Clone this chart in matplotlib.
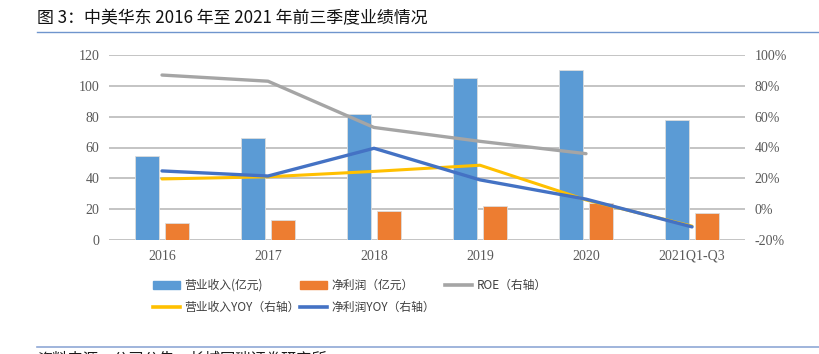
import numpy as np
import matplotlib.pyplot as plt
from matplotlib.ticker import FuncFormatter
from matplotlib.lines import Line2D

plt.rcParams['font.family'] = ['Noto Sans CJK SC', 'DejaVu Sans']

# data
years = ['2016', '2017', '2018', '2019', '2020', '2021Q1-Q3']
revenue = [54.5, 66, 82, 105, 110, 78]          # 营业收入 (亿元)
net_profit = [11, 13, 18.5, 22, 24, 17.5]       # 净利润 (亿元)
roe = [0.87, 0.83, 0.53, 0.44, 0.36, np.nan]    # ROE (右轴)
revenue_yoy = [0.196, 0.21, 0.245, 0.285, 0.06, -0.11]
profit_yoy = [0.248, 0.215, 0.395, 0.19, 0.065, -0.115]

c_rev = '#5B9BD5'
c_np = '#ED7D31'
c_roe = '#A5A5A5'
c_ryoy = '#FFC000'
c_pyoy = '#4472C4'
serif = 'Liberation Serif'
tick_col = '#595959'

fig = plt.figure(figsize=(8.2, 3.54), dpi=100)
ax = fig.add_axes([109/820, 1-240/354, 636/820, 185/354])
ax2 = ax.twinx()

x = np.arange(len(years))
w = 0.226
ax.bar(x - 0.14, revenue, w, color=c_rev, edgecolor='#DDDDDD', linewidth=0.6, zorder=2)
ax.bar(x + 0.14, net_profit, w, color=c_np, edgecolor='#DDDDDD', linewidth=0.6, zorder=2)

ax2.plot(x, roe, color=c_roe, lw=2.4, solid_capstyle='round')
ax2.plot(x, revenue_yoy, color=c_ryoy, lw=2.2, solid_capstyle='round')
ax2.plot(x, profit_yoy, color=c_pyoy, lw=2.4, solid_capstyle='round')

ax.set_xlim(-0.5, len(years) - 0.5)
ax.set_ylim(0, 120)
ax.set_yticks(range(0, 121, 20))
ax2.set_ylim(-0.2, 1.0)
ax2.set_yticks(np.arange(-0.2, 1.01, 0.2))
ax2.yaxis.set_major_formatter(FuncFormatter(lambda v, p: '%d%%' % round(v * 100)))

ax.grid(axis='y', color='#B4B4B4', lw=1.1, zorder=0)
ax.set_axisbelow(True)
ax.set_xticks(x)
ax.set_xticklabels(years)
for a in (ax, ax2):
    for s in a.spines.values():
        s.set_visible(False)
    a.tick_params(length=0, colors=tick_col, labelsize=10, pad=7)
    for lab in a.get_yticklabels() + a.get_xticklabels():
        lab.set_family(serif)

# legend: three columns placed like the original
rect = lambda c: plt.Rectangle((0, 0), 1, 1, color=c)
line = lambda c: Line2D([], [], color=c, lw=2.6)
cols = [
    (153, [rect(c_rev), line(c_ryoy)], ['营业收入(亿元)', '营业收入YOY（右轴）']),
    (300, [rect(c_np), line(c_pyoy)], ['净利润（亿元）', '净利润YOY（右轴）']),
    (445, [line(c_roe)], ['ROE（右轴）']),
]
for xpos, h, l in cols:
    leg = fig.legend(h, l, loc='upper left', bbox_to_anchor=(xpos/820, 1-279/354),
                     frameon=False, fontsize=8.5, handlelength=2.3, handleheight=0.7,
                     handletextpad=0.35, labelspacing=0.75, borderaxespad=0, borderpad=0)
    for t in leg.get_texts():
        t.set_color('#404040')

fig.text(37/820, 1-18/354, '图 3：中美华东 2016 年至 2021 年前三季度业绩情况',
         fontsize=12.2, va='center', ha='left', color='#111111')
fig.add_artist(Line2D([37/820, 1], [1-32/354, 1-32/354], color='#6F95CD', lw=1.0))
fig.add_artist(Line2D([37/820, 1], [1-347/354, 1-347/354], color='#8FA8D6', lw=1.2))
fig.text(37/820, 1-351/354, '资料来源：公司公告，长城国瑞证券研究所',
         fontsize=11, va='top', ha='left', color='#1a1a1a')

fig.savefig('out.png', dpi=100)
